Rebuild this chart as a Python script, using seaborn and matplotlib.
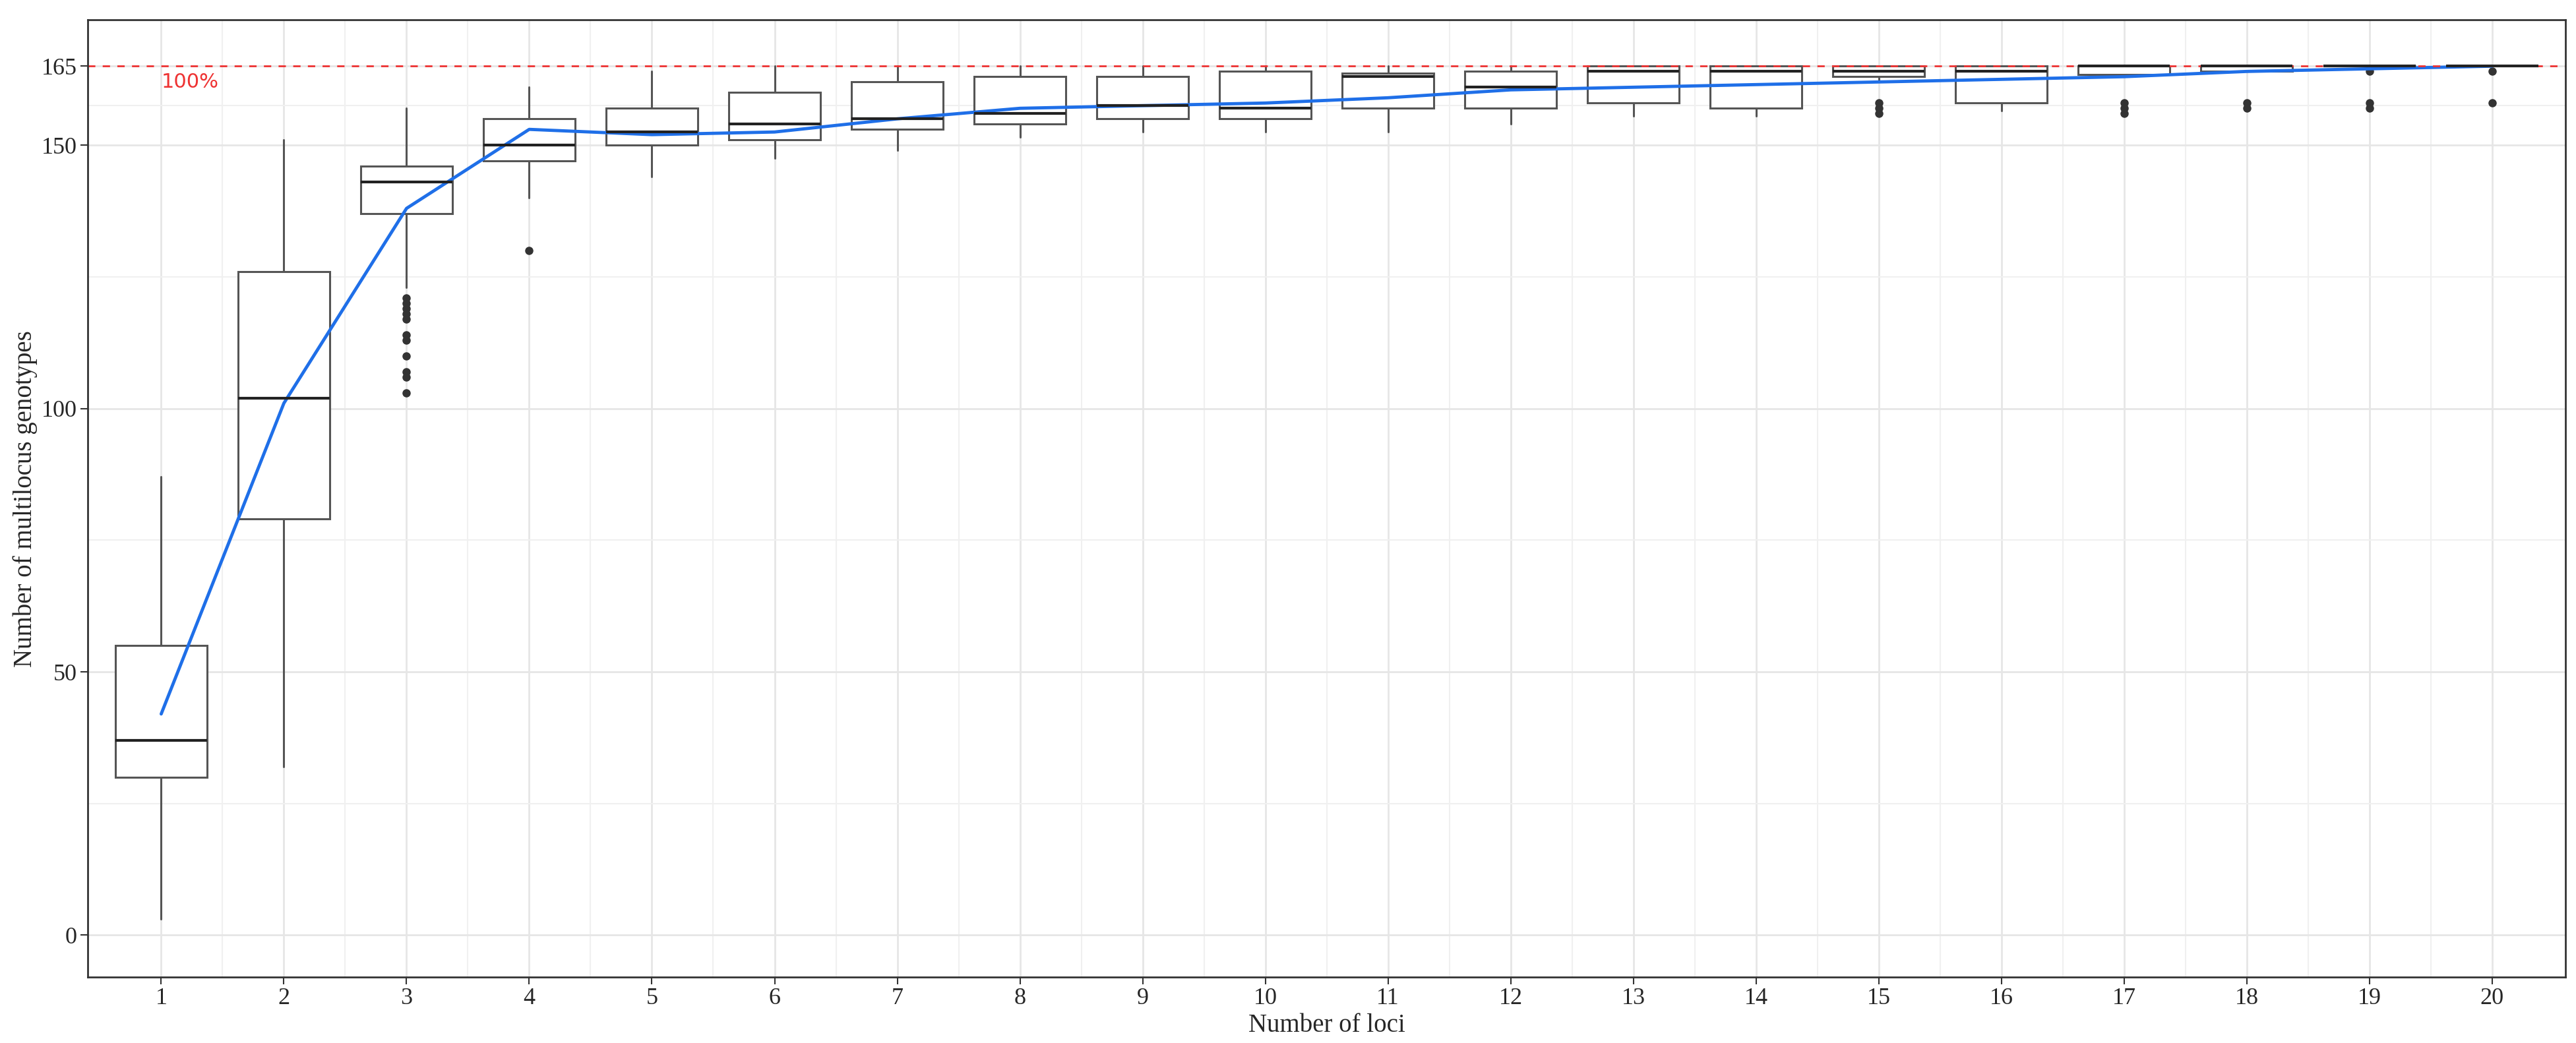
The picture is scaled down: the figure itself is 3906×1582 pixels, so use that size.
import matplotlib
matplotlib.use("Agg")
import matplotlib.pyplot as plt
import seaborn as sns
import pandas as pd

loci = list(range(1, 21))
whislo = [3, 32, 123, 140, 144, 147.5, 149, 151.5, 152.5, 152.5, 152.5, 154, 155.5, 155.5, 162, 156.5, 163.4, 164, 165, 165]
q1 = [30, 79, 137, 147, 150, 151, 153, 154, 155, 155, 157, 157, 158, 157, 163, 158, 163.4, 164, 165, 165]
med = [37, 102, 143, 150, 152.5, 154, 155, 156, 157.5, 157, 163, 161, 164, 164, 164, 164, 165, 165, 165, 165]
q3 = [55, 126, 146, 155, 157, 160, 162, 163, 163, 164, 163.7, 164, 165, 165, 165, 165, 165, 165, 165, 165]
whishi = [87, 151, 157, 161, 164, 165, 165, 165, 165, 165, 165, 165, 165, 165, 165, 165, 165, 165, 165, 165]
outliers = [[], [], [121, 120, 119, 118, 117, 114, 113, 110, 107, 106, 103], [130], [], [], [], [], [], [], [], [], [], [],
            [158, 157, 156], [], [158, 157, 156], [158, 157], [164, 158, 157], [164, 158]]
mean_mlg = [42, 101, 138, 153, 152, 152.5, 155, 157, 157.5, 158, 159, 160.5, 161, 161.5, 162, 162.5, 163, 164, 164.5, 165]

sns.set_theme(style="whitegrid")
plt.rcParams['font.family'] = ['Liberation Serif', 'DejaVu Serif']

fig = plt.figure(figsize=(39.06, 15.82), dpi=100)
ax = fig.add_axes([0.034, 0.063, 0.962, 0.918])

stats = [dict(whislo=a, q1=b, med=c, q3=d, whishi=e, fliers=f, label=str(l))
         for l, a, b, c, d, e, f in zip(loci, whislo, q1, med, q3, whishi, outliers)]
ax.bxp(stats, positions=loci, widths=0.75, patch_artist=True, showcaps=False,
       boxprops=dict(facecolor="white", edgecolor="#555555", linewidth=2.2),
       whiskerprops=dict(color="#555555", linewidth=2.2),
       medianprops=dict(color="#222222", linewidth=3),
       flierprops=dict(marker="o", markerfacecolor="#333333", markeredgecolor="#333333", markersize=8))

df = pd.DataFrame({"loci": loci, "mlg": mean_mlg})
sns.lineplot(data=df, x="loci", y="mlg", ax=ax, color="#1f6fe8", linewidth=3.5)

ax.axhline(165, color="#ee3333", linestyle=(0, (4, 4)), linewidth=2)
ax.text(1, 162, "100%", color="#ee3333", fontsize=22, family=["DejaVu Sans"], va="center")

ax.set_xlim(0.4, 20.6)
ax.set_ylim(-8, 173.8)
ax.set_xticks(loci)
ax.set_xticklabels([str(l) for l in loci])
ax.set_yticks([0, 50, 100, 150, 165])
ax.set_yticks([25, 75, 125, 157.5], minor=True)
ax.set_xticks([l + 0.5 for l in loci[:-1]], minor=True)
ax.grid(True, which="major", color="#e6e6e6", linewidth=2)
ax.grid(True, which="minor", color="#f0f0f0", linewidth=1.5)
ax.tick_params(axis="both", which="major", labelsize=26, length=8, width=1.5, color="#333333", left=True, bottom=True)
ax.tick_params(which="minor", length=0)
for s in ax.spines.values():
    s.set_edgecolor("#333333")
    s.set_linewidth(2)
ax.set_xlabel("Number of loci", fontsize=28)
ax.set_ylabel("Number of multilocus genotypes", fontsize=28)
fig.savefig("out.png", dpi=100)
